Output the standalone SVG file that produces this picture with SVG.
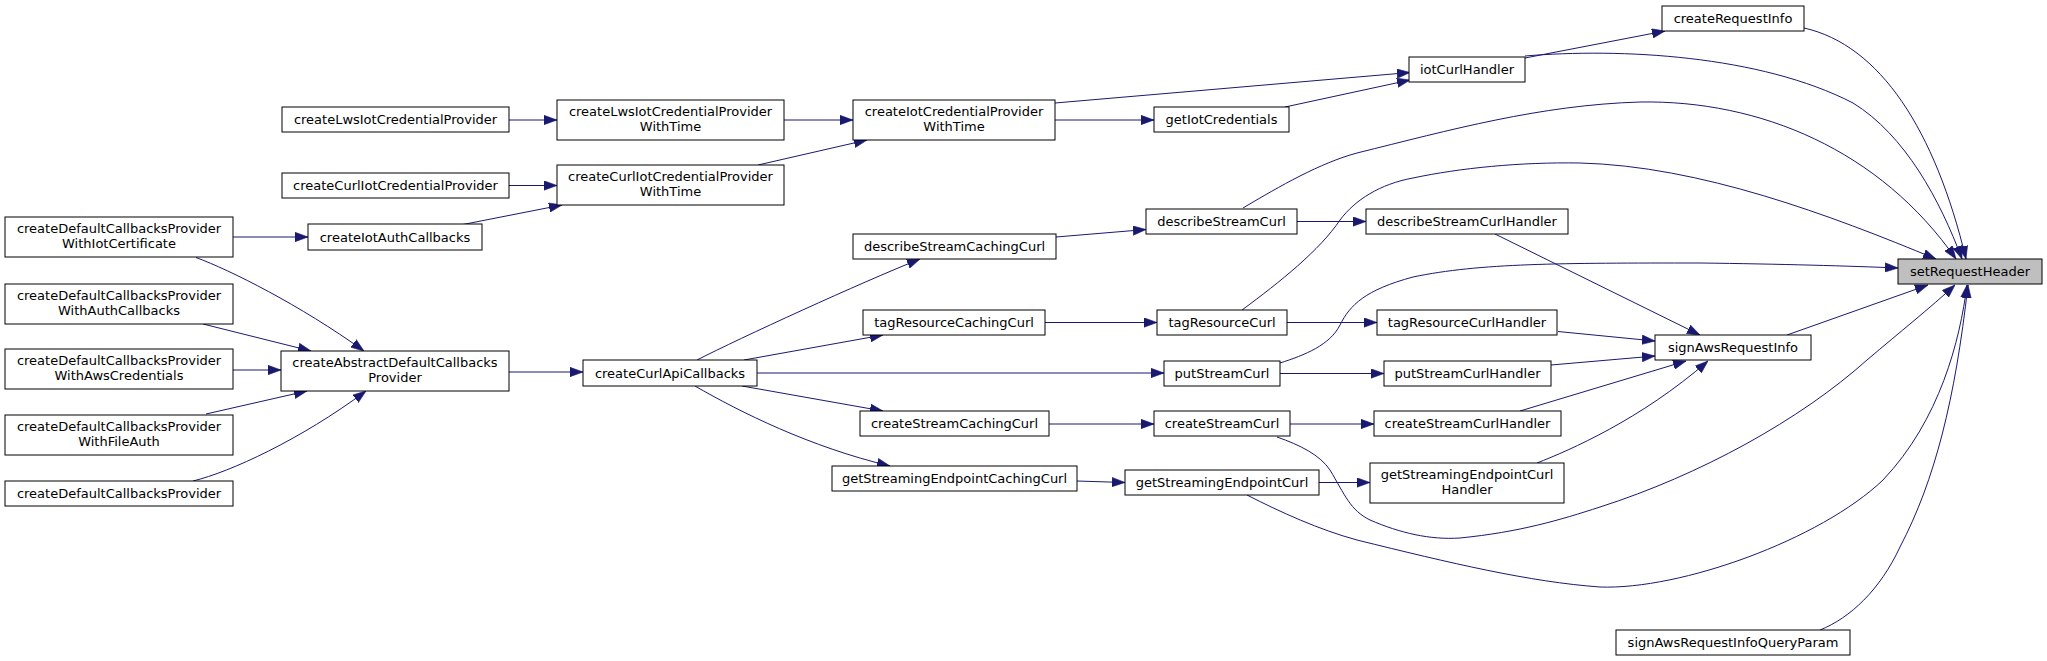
<svg xmlns="http://www.w3.org/2000/svg" width="2047" height="661" viewBox="0 0 2047 661">
<style>
.n rect{fill:#fff;stroke:#000;stroke-width:1}
.n.cur rect{fill:#bfbfbf}
.n text{font-family:"DejaVu Sans","Liberation Sans",sans-serif;font-size:13px;text-anchor:middle;fill:#000}
.e path{fill:none;stroke:#191970;stroke-width:1;marker-end:url(#ah)}
</style>
<defs>
<marker id="ah" markerUnits="userSpaceOnUse" viewBox="0 0 13 10" refX="13" refY="5" markerWidth="13" markerHeight="10" orient="auto">
<path d="M0,0.3 L13,5 L0,9.7 z" fill="#191970" stroke="#191970" stroke-width="0.6"/>
</marker>
</defs>
<rect width="2047" height="661" fill="#fff"/>
<g class="e" id="connectors">
<path d="M509,120 L557,120"/>
<path d="M509,185.5 L557,185.5"/>
<path d="M463,224.5 L562,205"/>
<path d="M233,237 L308,237"/>
<path d="M196,257.5 C230,270 300,305 364,351"/>
<path d="M203,324 L311,351"/>
<path d="M233,370 L281,370"/>
<path d="M206,414 L307,391"/>
<path d="M193,481 C230,472 300,440 366,391"/>
<path d="M509,372 L583,372"/>
<path d="M697,360 C740,338 860,283 920,259"/>
<path d="M744,360 L883,335"/>
<path d="M757,373 L1164,373"/>
<path d="M742,386 L883,411"/>
<path d="M695,386 C740,412 810,447 890,466"/>
<path d="M784,120 L853,120"/>
<path d="M758,165 L867,140"/>
<path d="M1055,103 L1410,72.5"/>
<path d="M1055,120 L1154,120"/>
<path d="M1285,107 L1410,80"/>
<path d="M1525,58 L1665,31"/>
<path d="M1525,56 C1620,48 1760,55 1853,103 C1905,135 1940,200 1962,259"/>
<path d="M1804,28 C1880,45 1935,130 1966,259"/>
<path d="M1243,208 C1280,186 1320,163 1357,153 C1450,130 1540,105 1640,102 C1760,100 1880,150 1956,259"/>
<path d="M1242,310 C1280,282 1320,250 1340,220 C1355,200 1380,184 1413,178 C1460,168 1520,162 1580,163 C1700,166 1830,215 1936,259"/>
<path d="M1280,363 C1305,355 1330,345 1340,325 C1350,305 1365,290 1413,277 C1480,263 1560,263 1700,263 C1780,264 1850,266 1898,268"/>
<path d="M1787,335 L1928,285"/>
<path d="M1277,437 C1300,445 1320,455 1330,470 C1345,495 1350,510 1370,520 C1400,533 1430,540 1460,538 C1520,532 1560,520 1600,507 C1700,475 1800,420 1867,360 C1900,332 1930,308 1955,285"/>
<path d="M1247,495 C1280,512 1320,530 1357,540 C1450,563 1530,582 1600,587 C1680,590 1820,540 1883,480 C1940,420 1960,340 1967,285"/>
<path d="M1820,630 C1850,618 1880,590 1900,547 C1935,480 1955,400 1968,285"/>
<path d="M1495,234 L1700,335"/>
<path d="M1558,331.5 L1655,341"/>
<path d="M1551,365 L1655,356"/>
<path d="M1520,411 L1686,361"/>
<path d="M1537,463 C1570,450 1640,420 1708,361"/>
<path d="M1297,221.5 L1366,221.5"/>
<path d="M1287,322.5 L1377,322.5"/>
<path d="M1280,373.5 L1384,373.5"/>
<path d="M1290,424 L1374,424"/>
<path d="M1319,482.5 L1370,482.5"/>
<path d="M1056,237 L1146,229.5"/>
<path d="M1045,322.5 L1157,322.5"/>
<path d="M1049,424 L1154,424"/>
<path d="M1077,481 L1125,482.5"/>
</g>
<g class="n cur" id="setRequestHeader"><rect x="1898" y="259" width="144" height="25"/><text x="1970" y="276">setRequestHeader</text></g>
<g class="n" id="createRequestInfo"><rect x="1662" y="6" width="142" height="25"/><text x="1733" y="23">createRequestInfo</text></g>
<g class="n" id="iotCurlHandler"><rect x="1409" y="57" width="116" height="25"/><text x="1467" y="74">iotCurlHandler</text></g>
<g class="n" id="createIotCredentialProviderWithTime"><rect x="853" y="100" width="202" height="40"/><text x="954" y="116.3">createIotCredentialProvider</text><text x="954" y="130.7">WithTime</text></g>
<g class="n" id="getIotCredentials"><rect x="1154" y="107" width="135" height="25"/><text x="1221.5" y="124">getIotCredentials</text></g>
<g class="n" id="createLwsIotCredentialProviderWithTime"><rect x="557" y="100" width="227" height="40"/><text x="670.5" y="116.3">createLwsIotCredentialProvider</text><text x="670.5" y="130.7">WithTime</text></g>
<g class="n" id="createCurlIotCredentialProviderWithTime"><rect x="557" y="165" width="227" height="40"/><text x="670.5" y="181.3">createCurlIotCredentialProvider</text><text x="670.5" y="195.7">WithTime</text></g>
<g class="n" id="createLwsIotCredentialProvider"><rect x="282" y="107" width="227" height="25"/><text x="395.5" y="124">createLwsIotCredentialProvider</text></g>
<g class="n" id="createCurlIotCredentialProvider"><rect x="282" y="173" width="227" height="25"/><text x="395.5" y="190">createCurlIotCredentialProvider</text></g>
<g class="n" id="createIotAuthCallbacks"><rect x="308" y="224" width="174" height="26"/><text x="395" y="241.5">createIotAuthCallbacks</text></g>
<g class="n" id="createDefaultCallbacksProviderWithIotCertificate"><rect x="5" y="217" width="228" height="40"/><text x="119" y="233.3">createDefaultCallbacksProvider</text><text x="119" y="247.7">WithIotCertificate</text></g>
<g class="n" id="createDefaultCallbacksProviderWithAuthCallbacks"><rect x="5" y="284" width="228" height="40"/><text x="119" y="300.3">createDefaultCallbacksProvider</text><text x="119" y="314.7">WithAuthCallbacks</text></g>
<g class="n" id="createDefaultCallbacksProviderWithAwsCredentials"><rect x="5" y="349" width="228" height="40"/><text x="119" y="365.3">createDefaultCallbacksProvider</text><text x="119" y="379.7">WithAwsCredentials</text></g>
<g class="n" id="createDefaultCallbacksProviderWithFileAuth"><rect x="5" y="415" width="228" height="40"/><text x="119" y="431.3">createDefaultCallbacksProvider</text><text x="119" y="445.7">WithFileAuth</text></g>
<g class="n" id="createDefaultCallbacksProvider"><rect x="5" y="481" width="228" height="25"/><text x="119" y="498">createDefaultCallbacksProvider</text></g>
<g class="n" id="createAbstractDefaultCallbacksProvider"><rect x="281" y="351" width="228" height="40"/><text x="395" y="367.3">createAbstractDefaultCallbacks</text><text x="395" y="381.7">Provider</text></g>
<g class="n" id="createCurlApiCallbacks"><rect x="583" y="360" width="174" height="26"/><text x="670" y="377.5">createCurlApiCallbacks</text></g>
<g class="n" id="describeStreamCachingCurl"><rect x="853" y="234" width="203" height="25"/><text x="954.5" y="251">describeStreamCachingCurl</text></g>
<g class="n" id="tagResourceCachingCurl"><rect x="863" y="310" width="182" height="25"/><text x="954" y="327">tagResourceCachingCurl</text></g>
<g class="n" id="createStreamCachingCurl"><rect x="860" y="411" width="189" height="25"/><text x="954.5" y="428">createStreamCachingCurl</text></g>
<g class="n" id="getStreamingEndpointCachingCurl"><rect x="832" y="466" width="245" height="25"/><text x="954.5" y="483">getStreamingEndpointCachingCurl</text></g>
<g class="n" id="describeStreamCurl"><rect x="1146" y="209" width="151" height="25"/><text x="1221.5" y="226">describeStreamCurl</text></g>
<g class="n" id="describeStreamCurlHandler"><rect x="1366" y="209" width="202" height="25"/><text x="1467" y="226">describeStreamCurlHandler</text></g>
<g class="n" id="tagResourceCurl"><rect x="1157" y="310" width="130" height="25"/><text x="1222" y="327">tagResourceCurl</text></g>
<g class="n" id="tagResourceCurlHandler"><rect x="1377" y="310" width="180" height="25"/><text x="1467" y="327">tagResourceCurlHandler</text></g>
<g class="n" id="putStreamCurl"><rect x="1164" y="361" width="116" height="25"/><text x="1222" y="378">putStreamCurl</text></g>
<g class="n" id="putStreamCurlHandler"><rect x="1384" y="361" width="167" height="25"/><text x="1467.5" y="378">putStreamCurlHandler</text></g>
<g class="n" id="createStreamCurl"><rect x="1154" y="411" width="136" height="25"/><text x="1222" y="428">createStreamCurl</text></g>
<g class="n" id="createStreamCurlHandler"><rect x="1374" y="411" width="187" height="25"/><text x="1467.5" y="428">createStreamCurlHandler</text></g>
<g class="n" id="getStreamingEndpointCurl"><rect x="1125" y="470" width="194" height="25"/><text x="1222" y="487">getStreamingEndpointCurl</text></g>
<g class="n" id="getStreamingEndpointCurlHandler"><rect x="1370" y="463" width="194" height="40"/><text x="1467" y="479.3">getStreamingEndpointCurl</text><text x="1467" y="493.7">Handler</text></g>
<g class="n" id="signAwsRequestInfo"><rect x="1655" y="335" width="156" height="25"/><text x="1733" y="352">signAwsRequestInfo</text></g>
<g class="n" id="signAwsRequestInfoQueryParam"><rect x="1616" y="630" width="234" height="25"/><text x="1733" y="647">signAwsRequestInfoQueryParam</text></g>
</svg>
